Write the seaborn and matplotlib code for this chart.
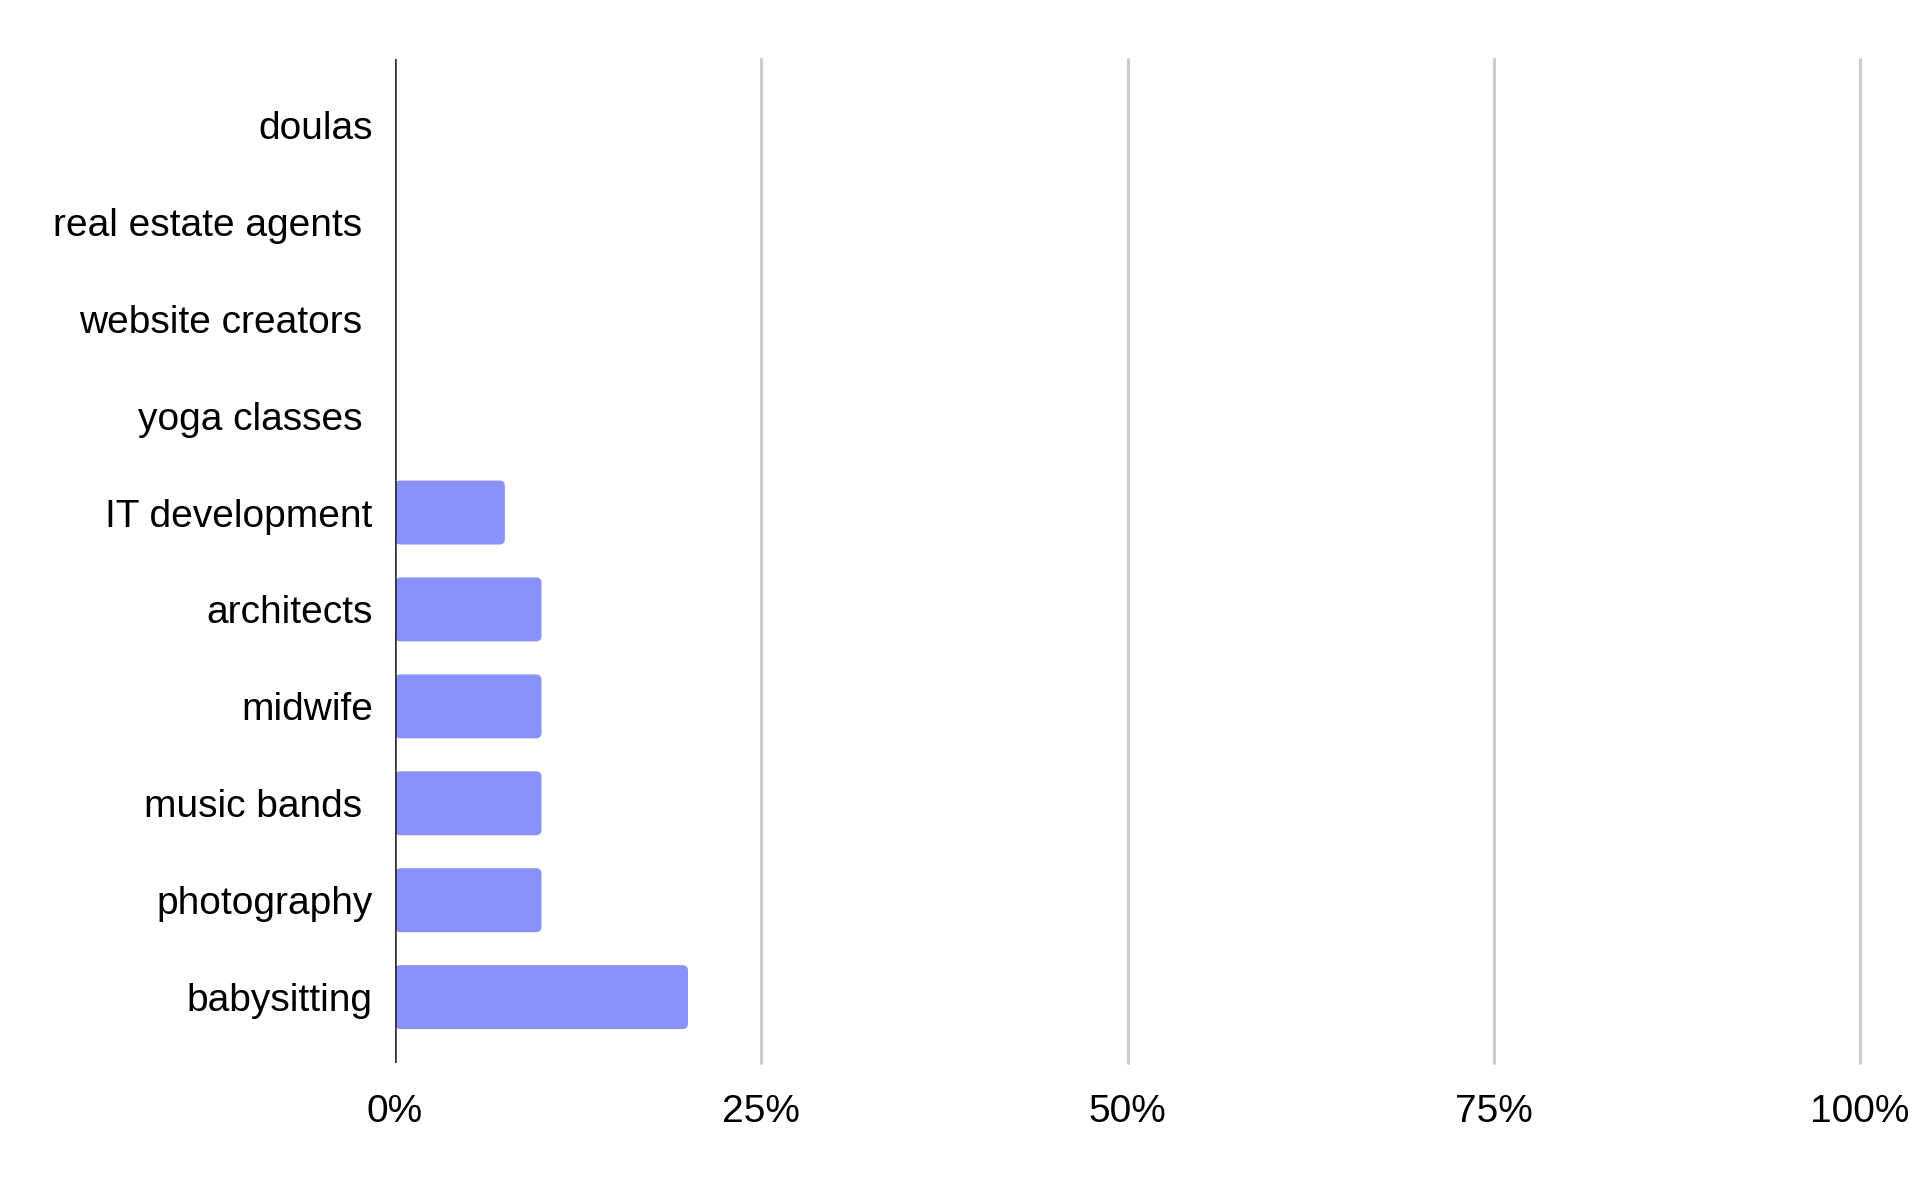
import numpy as np
import pandas as pd
import seaborn as sns
import matplotlib.pyplot as plt
from matplotlib.patches import FancyBboxPatch

categories = ['doulas', 'real estate agents ', 'website creators ', 'yoga classes ',
              'IT development', 'architects', 'midwife', 'music bands ',
              'photography', 'babysitting']
shares = [0, 0, 0, 0, 7.5, 10, 10, 10, 10, 20]  # percent
tick_values = [0, 25, 50, 75, 100]
tick_labels = ['0%', '25%', '50%', '75%', '100%']

df = pd.DataFrame({'category': categories, 'share': shares})

sns.set_theme(style='white')
plt.rcParams['font.family'] = ['Liberation Sans', 'DejaVu Sans']

fig = plt.figure(figsize=(19.2, 11.87), dpi=100)
ppu = (1860 - 395) / 100  # pixels per percent
ax = fig.add_axes([395 / 1920, 1 - 1063 / 1187,
                   (100.3 * ppu) / 1920, (1063 - 59) / 1187])

sns.barplot(data=df, x='share', y='category', orient='h', color='#8892fa',
            width=0.66, saturation=1, ax=ax, zorder=3)

# swap plain rectangles for slightly rounded ones
for p in list(ax.patches):
    x, y, w, h = p.get_x(), p.get_y(), p.get_width(), p.get_height()
    p.remove()
    if w <= 0:
        continue
    r = 5.5 / ppu
    ax.add_patch(FancyBboxPatch((x, y), w, h,
                                boxstyle=f'round,pad=0,rounding_size={r}',
                                mutation_aspect=(5.5 / 97) / r,
                                facecolor='#8892fa', edgecolor='none', zorder=3))

ax.set_xlim(0, 100.3)
ax.set_ylim(9.68, -0.68)
ax.set_xticks(tick_values)
ax.set_xticklabels(tick_labels)
for v in tick_values[1:]:
    ax.axvline(v, color='#cccccc', lw=2.2, zorder=1, clip_on=False)
ax.axvline(0, color='#333333', lw=2.6, zorder=4)

for s in ax.spines.values():
    s.set_visible(False)
ax.tick_params(axis='x', length=0, pad=22, labelsize=28, colors='black')
ax.tick_params(axis='y', length=0, pad=16, labelsize=28, colors='black')
ax.set_xlabel('')
ax.set_ylabel('')

fig.savefig('out.png', dpi=100, facecolor='white')
